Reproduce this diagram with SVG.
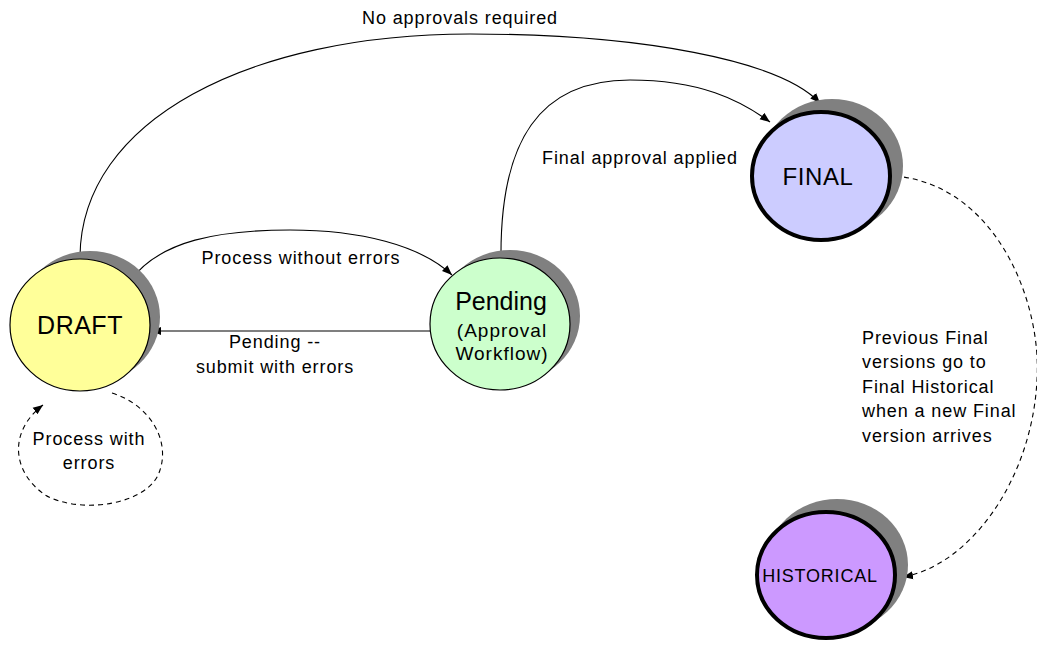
<svg xmlns="http://www.w3.org/2000/svg" width="1037" height="645" viewBox="0 0 1037 645">
<style>
text{font-family:"Liberation Sans",Arial,sans-serif;fill:#000;}
.lbl{font-size:18px;letter-spacing:0.9px;}
.c{text-anchor:middle;}
.shadow{fill:#808080;}
.thin{stroke:#000;stroke-width:1.2;}
.thick{stroke:#000;stroke-width:4;}
.conn{fill:none;stroke:#000;stroke-width:1.1;}
.dash{stroke-dasharray:5,4;}
</style>
<defs>
<marker id="arr" viewBox="0 0 10 10" refX="10" refY="5" markerWidth="10" markerHeight="10" markerUnits="userSpaceOnUse" orient="auto">
<path d="M0,1 L10,5 L0,9 z" fill="#000"/>
</marker>
</defs>
<rect width="1037" height="645" fill="#fff"/>
<g id="connectors">
<path class="conn" d="M80,258 C80,120 250,34 470,34 C640,34 780,60 820,103" marker-end="url(#arr)"/>
<path class="conn" d="M501,258 C500,140 540,80 630,80 C700,80 740,100 770,122" marker-end="url(#arr)"/>
<path class="conn" d="M130,281 C160,240 220,230 290,230 C360,230 420,245 452,275" marker-end="url(#arr)"/>
<path class="conn" d="M430,331 L151,331" marker-end="url(#arr)"/>
<path class="conn dash" d="M112,393 C150,405 170,440 160,470 C150,505 80,515 45,495 C10,470 10,430 43,405" marker-end="url(#arr)"/>
<path class="conn dash" d="M895,176 C995,185 1042,300 1037,380 C1032,480 970,565 903,577" marker-end="url(#arr)"/>
</g>
<g id="labels">
<text class="lbl c" x="460" y="24">No approvals required</text>
<text class="lbl c" x="640" y="164">Final approval applied</text>
<text class="lbl c" x="301" y="264">Process without errors</text>
<text class="lbl c" x="275" y="348">Pending --</text>
<text class="lbl c" x="275" y="373">submit with errors</text>
<text class="lbl c" x="89" y="445">Process with</text>
<text class="lbl c" x="89" y="469">errors</text>
<text class="lbl" x="862" y="344">Previous Final</text>
<text class="lbl" x="862" y="368">versions go to</text>
<text class="lbl" x="862" y="393">Final Historical</text>
<text class="lbl" x="862" y="417">when a new Final</text>
<text class="lbl" x="862" y="442">version arrives</text>
</g>
<g id="draft">
<ellipse class="shadow" cx="90" cy="317" rx="70" ry="66"/>
<ellipse class="thin" cx="80" cy="325" rx="70" ry="66" fill="#FFFF99"/>
<text class="c" x="80" y="334" font-size="25" letter-spacing="0.5">DRAFT</text>
</g>
<g id="pending">
<ellipse class="shadow" cx="510" cy="316" rx="70" ry="66"/>
<ellipse class="thin" cx="500" cy="324" rx="70" ry="66" fill="#CCFFCC"/>
<text class="c" x="501" y="310" font-size="25">Pending</text>
<text class="c" x="502" y="337" font-size="19" letter-spacing="1">(Approval</text>
<text class="c" x="502" y="360" font-size="19" letter-spacing="1">Workflow)</text>
</g>
<g id="final">
<ellipse class="shadow" cx="832" cy="166" rx="71" ry="67"/>
<ellipse class="thick" cx="821" cy="176" rx="69" ry="64" fill="#CCCCFF"/>
<text class="c" x="818" y="185" font-size="24" letter-spacing="0.6">FINAL</text>
</g>
<g id="historical">
<ellipse class="shadow" cx="837" cy="565" rx="71" ry="66"/>
<ellipse class="thick" cx="826" cy="575" rx="69" ry="63" fill="#CC99FF"/>
<text class="c" x="820" y="582" font-size="18" letter-spacing="0.8">HISTORICAL</text>
</g>
</svg>
